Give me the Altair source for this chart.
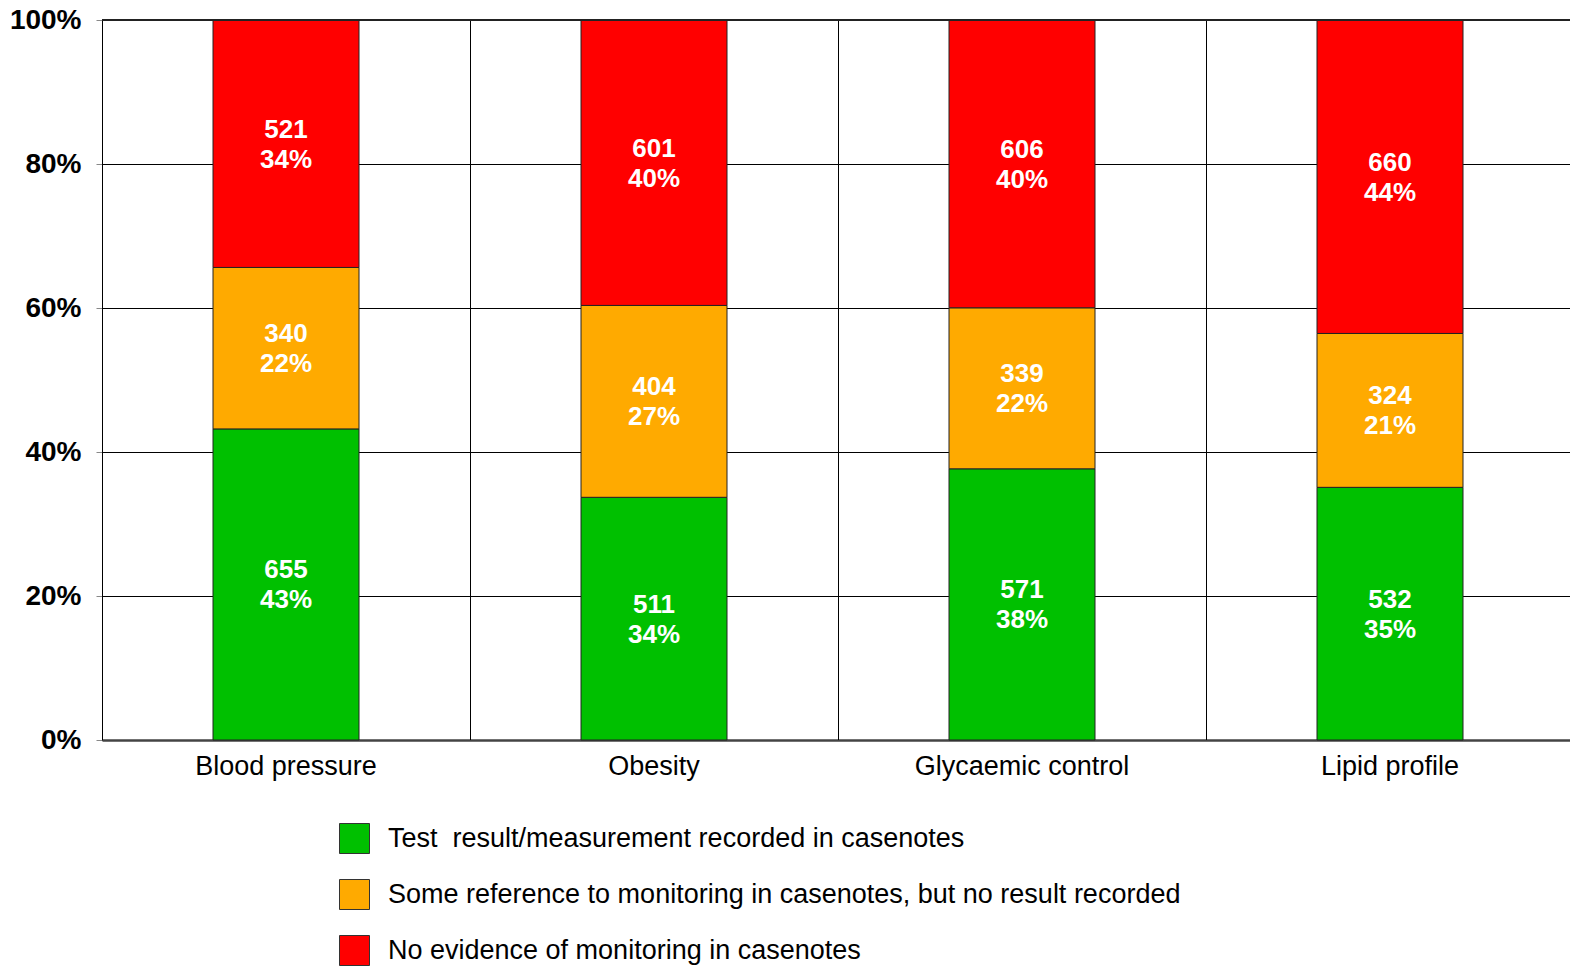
import altair as alt
import pandas as pd

# Monitoring outcome per clinical area (number of patients)
categories = ["Blood pressure", "Obesity", "Glycaemic control", "Lipid profile"]
recorded = [655, 511, 571, 532]
referenced = [340, 404, 339, 324]
no_evidence = [521, 601, 606, 660]

statuses = [
    "Test\u00a0 result/measurement recorded in casenotes",
    "Some reference to monitoring in casenotes, but no result recorded",
    "No evidence of monitoring in casenotes",
]
colors = ["#00C000", "#FFAA00", "#FF0000"]

FONT = "Liberation Sans"

rows = []
for i, cat in enumerate(categories):
    for rank, (status, series) in enumerate(zip(statuses, [recorded, referenced, no_evidence])):
        rows.append({"cat": cat, "status": status, "rank": rank, "count": series[i]})
df = pd.DataFrame(rows)

x_enc = alt.X(
    "cat:N",
    sort=categories,
    scale=alt.Scale(range=[0, 1472], paddingInner=0, paddingOuter=0),
    axis=alt.Axis(
        title=None, labelAngle=0, ticks=False, labelFontSize=27, labelFont=FONT,
        labelColor="black", labelPadding=26, labelAlign="center", labelBaseline="middle",
        domainColor="#444", domainWidth=2.5, grid=False, labelLimit=0,
    ),
)

base = (
    alt.Chart(df)
    .transform_joinaggregate(total="sum(count)", groupby=["cat"])
    .transform_stack(
        stack="count", groupby=["cat"], as_=["y0", "y1"], offset="normalize",
        sort=[alt.SortField("rank", order="ascending")],
    )
    .transform_calculate(
        mid="(datum.y0 + datum.y1) / 2",
        label="datum.count + '\\n' + round(100 * datum.count / datum.total) + '%'",
    )
)

bars = base.mark_bar(width=146, stroke="#222", strokeWidth=1).encode(
    x=x_enc,
    y=alt.Y(
        "y0:Q",
        scale=alt.Scale(domain=[0, 1], nice=False),
        axis=alt.Axis(
            title=None, values=[0, 0.2, 0.4, 0.6, 0.8, 1.0], format=".0%",
            labelFontSize=28, labelFontWeight="bold", labelFont=FONT, labelColor="black",
            tickSize=6, tickColor="#888", labelPadding=15, domainColor="black",
            grid=True, gridColor="black", gridWidth=1,
        ),
    ),
    y2="y1:Q",
    color=alt.Color(
        "status:N",
        scale=alt.Scale(domain=statuses, range=colors),
        legend=alt.Legend(
            title=None, orient="none", legendX=237, legendY=803, direction="vertical",
            symbolType="square", symbolSize=900, symbolStrokeColor="#333",
            symbolStrokeWidth=1, symbolOpacity=1, labelFontSize=27, labelFont=FONT,
            labelColor="black", labelOffset=18, rowPadding=21, labelLimit=0,
        ),
    ),
)

labels = base.mark_text(
    color="white", fontSize=26, fontWeight="bold", font=FONT,
    lineBreak="\n", lineHeight=30, baseline="middle", align="center", dy=-14,
).encode(x=alt.X("cat:N", sort=categories), y="mid:Q", text="label:N")

# Vertical separators between the category bands
separators = alt.Chart(pd.DataFrame({"cat": categories[1:]})).mark_rule(
    color="#000", strokeWidth=1, xOffset=0.5
).encode(x=alt.X("cat:N", sort=categories, bandPosition=0))

# Heavier line along the 100% level
top_line = alt.Chart(pd.DataFrame({"v": [1.0]})).mark_rule(
    color="#222", strokeWidth=2
).encode(y=alt.Y("v:Q"))

chart = (
    alt.layer(separators, bars, labels, top_line)
    .properties(
        width=1468, height=720,
        padding={"left": 102, "top": 20, "right": 0, "bottom": 226},
        autosize=alt.AutoSizeParams(type="none"),
    )
    .configure_view(stroke=None)
)

chart.save("out.html", embed_options={"renderer": "svg", "actions": False})
